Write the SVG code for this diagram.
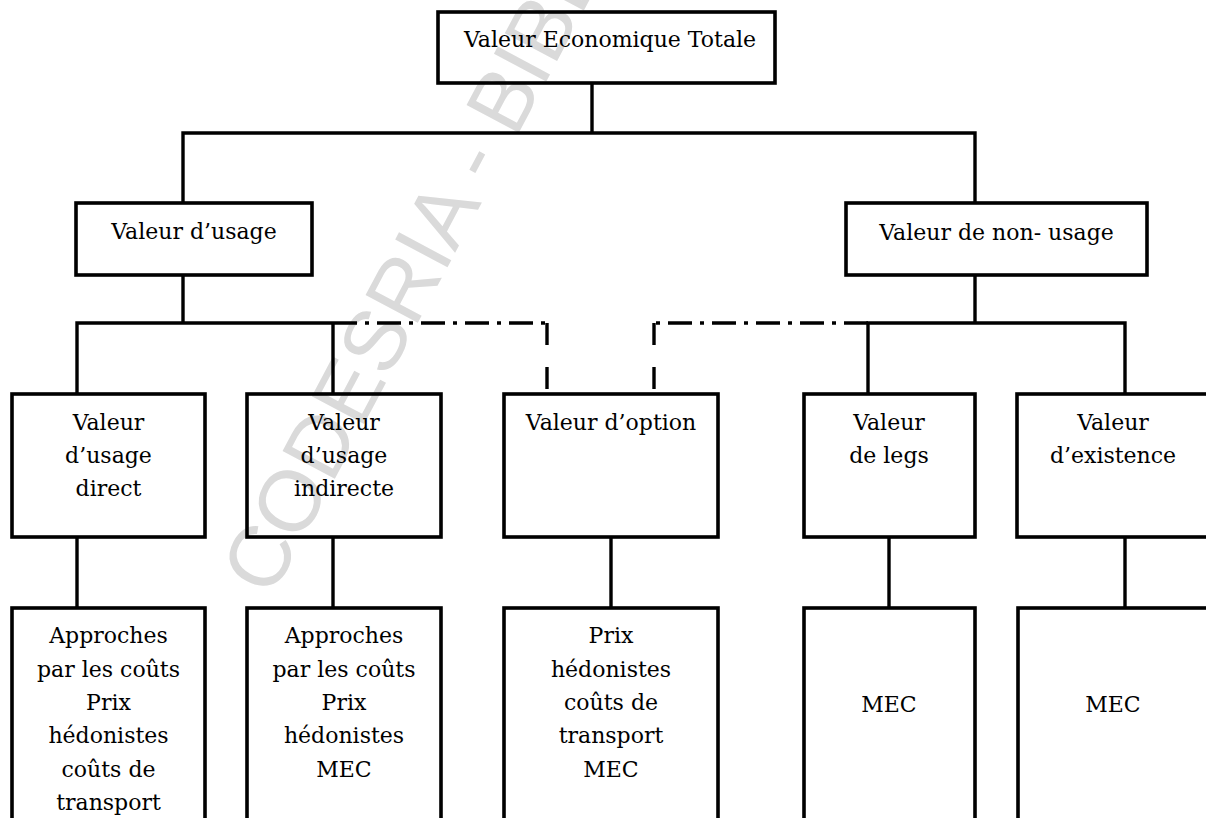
<svg xmlns="http://www.w3.org/2000/svg" width="1206" height="818" viewBox="0 0 1206 818">
<style>
.bg{fill:#ffffff}
.box{fill:none;stroke:#000;stroke-width:3.6}
.ln{fill:none;stroke:#000;stroke-width:3.4}
.dd{fill:none;stroke:#000;stroke-width:3.4;stroke-dasharray:24 8 4 8}
.ds{fill:none;stroke:#000;stroke-width:3.4;stroke-dasharray:22 22}
text{font-family:"DejaVu Serif","Liberation Serif",serif;font-size:22px;fill:#000;text-anchor:middle}
.wm{font-family:"Liberation Sans",Arial,sans-serif;font-size:86px;fill:#dadada;text-anchor:start}
</style>
<rect class="bg" x="0" y="0" width="1206" height="818"/>
<text class="wm" x="271" y="599" transform="rotate(-62 271 599)">CODESRIA - BIBLIOTHEQUE</text>
<g id="connectors">
<path class="ln" d="M592 83V133M183 203V133H975V203"/>
<path class="ln" d="M183 275V323M77 394V323H333M333 323V394"/>
<path class="dd" d="M333 323H547"/>
<path class="ds" d="M547 323V394"/>
<path class="ln" d="M975 275V323M868 394V323H1125V394"/>
<path class="dd" d="M868 323H654"/>
<path class="ds" d="M654 323V394"/>
<path class="ln" d="M77 537V608M333 537V608M611 537V608M889 537V608M1125 537V608"/>
</g>
<g id="vet"><rect class="box" x="438" y="12" width="337" height="71"/><text x="610" y="47">Valeur Economique Totale</text></g>
<g id="usage"><rect class="box" x="76" y="203" width="236" height="72"/><text x="194" y="239">Valeur d’usage</text></g>
<g id="nonusage"><rect class="box" x="846" y="203" width="301" height="72"/><text x="996.5" y="240">Valeur de non- usage</text></g>
<g id="direct"><rect class="box" x="12" y="394" width="193" height="143"/><text x="108.5" y="430">Valeur</text><text x="108.5" y="463">d’usage</text><text x="108.5" y="496">direct</text></g>
<g id="indirect"><rect class="box" x="247" y="394" width="194" height="143"/><text x="344" y="430">Valeur</text><text x="344" y="463">d’usage</text><text x="344" y="496">indirecte</text></g>
<g id="option"><rect class="box" x="504" y="394" width="214" height="143"/><text x="611" y="430">Valeur d’option</text></g>
<g id="legs"><rect class="box" x="804" y="394" width="171" height="143"/><text x="889" y="430">Valeur</text><text x="889" y="463">de legs</text></g>
<g id="existence"><rect class="box" x="1017" y="394" width="195" height="143"/><text x="1113" y="430">Valeur</text><text x="1113" y="463">d’existence</text></g>
<g id="m-direct"><rect class="box" x="12" y="608" width="193" height="230"/><text x="108.5" y="643">Approches</text><text x="108.5" y="676.5">par les coûts</text><text x="108.5" y="710">Prix</text><text x="108.5" y="743">hédonistes</text><text x="108.5" y="776.5">coûts de</text><text x="108.5" y="810">transport</text></g>
<g id="m-indirect"><rect class="box" x="247" y="608" width="194" height="230"/><text x="344" y="643">Approches</text><text x="344" y="676.5">par les coûts</text><text x="344" y="710">Prix</text><text x="344" y="743">hédonistes</text><text x="344" y="776.5">MEC</text></g>
<g id="m-option"><rect class="box" x="504" y="608" width="214" height="230"/><text x="611" y="643">Prix</text><text x="611" y="676.5">hédonistes</text><text x="611" y="710">coûts de</text><text x="611" y="743">transport</text><text x="611" y="776.5">MEC</text></g>
<g id="m-legs"><rect class="box" x="804" y="608" width="171" height="230"/><text x="889" y="712">MEC</text></g>
<g id="m-existence"><rect class="box" x="1018" y="608" width="194" height="230"/><text x="1113" y="712">MEC</text></g>
</svg>
